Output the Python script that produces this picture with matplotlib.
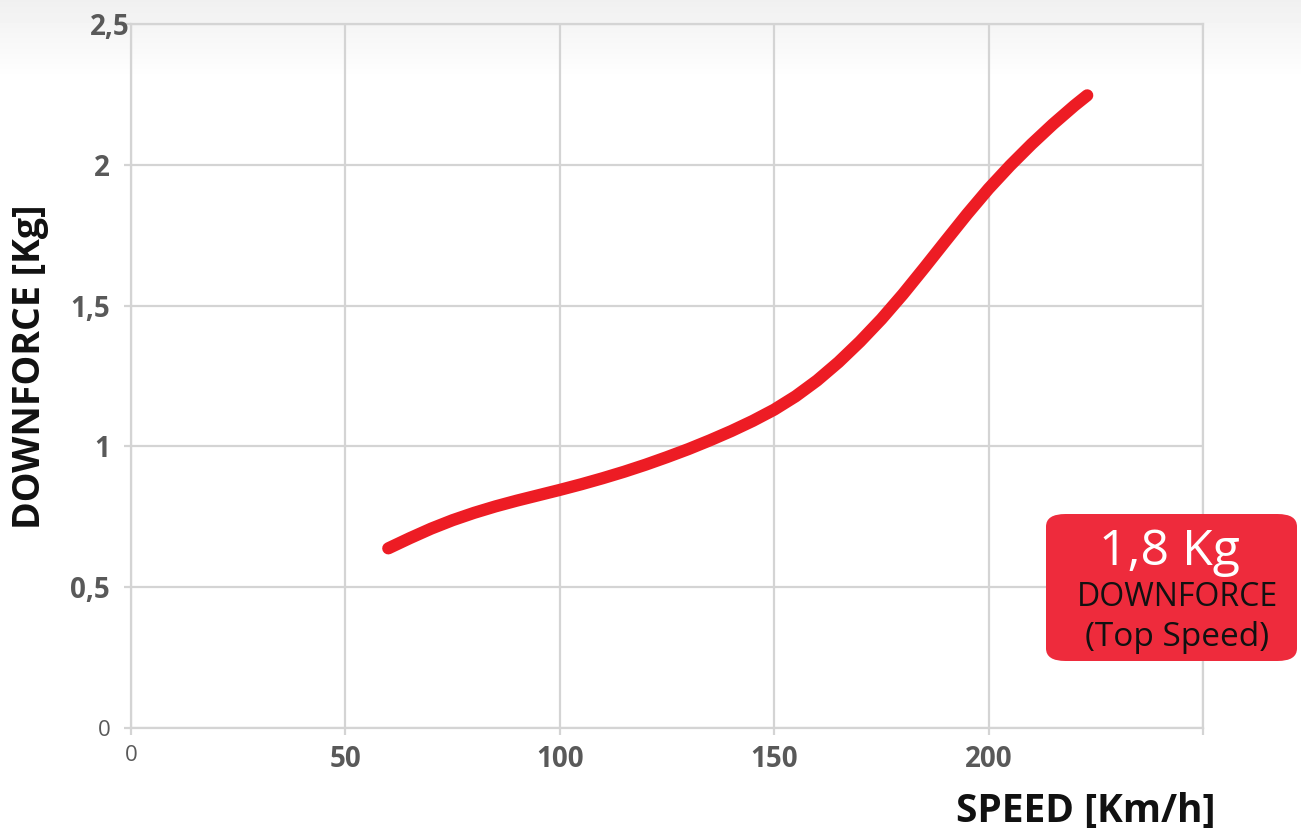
import numpy as np
import matplotlib
matplotlib.use('Agg')
import matplotlib.pyplot as plt
from matplotlib.patches import FancyBboxPatch

# data
speed = [60, 65, 70, 75, 80, 85, 90, 95, 100, 105, 110, 115, 120, 125, 130,
         135, 140, 145, 150, 155, 160, 165, 170, 175, 180, 185, 190, 195,
         200, 205, 210, 215, 220, 223]
downforce = [0.638, 0.674, 0.708, 0.738, 0.764, 0.787, 0.8075, 0.8265, 0.8455,
             0.8655, 0.887, 0.910, 0.935, 0.962, 0.9905, 1.0215, 1.0545, 1.0905,
             1.1305, 1.178, 1.234, 1.299, 1.372, 1.452, 1.540, 1.634, 1.730,
             1.825, 1.915, 1.997, 2.073, 2.144, 2.210, 2.2466]

x_ticks = [0, 50, 100, 150, 200, 250]
x_labels = ['0', '50', '100', '150', '200', '']
y_ticks = [0, 0.5, 1, 1.5, 2, 2.5]
y_labels = ['0', '0,5', '1', '1,5', '2', '2,5']

grey = '#595959'
grid_c = '#d4d4d4'

fig = plt.figure(figsize=(13.01, 8.36), dpi=100)

# light grey fade at the top of the picture
bg = fig.add_axes([0, 0, 1, 1], zorder=-10)
grad = np.ones((836, 2))
top = np.linspace(0.94, 1.0, 80)
grad[:80, :] = top[:, None]
bg.imshow(grad, cmap='gray', vmin=0, vmax=1, aspect='auto', extent=[0, 1, 0, 1])
bg.axis('off')

ax = fig.add_axes([131 / 1301, 1 - 728 / 836, 1072 / 1301, 704 / 836])
ax.patch.set_alpha(0)

ax.plot(speed, downforce, color='#ED1C24', lw=8.8, solid_capstyle='round',
        solid_joinstyle='round', zorder=5)

ax.set_xlim(0, 250)
ax.set_ylim(0, 2.5)
ax.set_xticks(x_ticks)
ax.set_xticklabels(x_labels)
ax.set_yticks(y_ticks)
ax.set_yticklabels(y_labels)
ax.grid(True, color=grid_c, lw=1.6)
ax.set_axisbelow(True)

for s in ax.spines.values():
    s.set_color(grid_c)
    s.set_linewidth(1.6)

ax.tick_params(axis='both', color=grid_c, width=1.6, length=5)
ax.tick_params(axis='x', pad=7)
ax.tick_params(axis='y', pad=10)

for lab in ax.get_xticklabels() + ax.get_yticklabels():
    lab.set_fontfamily('Open Sans')
    lab.set_color(grey)
    if lab.get_text() == '0':
        lab.set_fontsize(16)
        lab.set_fontweight('normal')
    else:
        lab.set_fontsize(20)
        lab.set_fontweight('bold')

# the top label sits a bit to the right in the original
ax.get_yticklabels()[-1].set_ha('center')

fig.text(1215 / 1301, 1 - 811 / 836, 'SPEED [Km/h]', ha='right', va='center',
         fontsize=28, fontweight='bold', family='Open Sans', color='#111111')
fig.text(30 / 1301, 1 - 367 / 836, 'DOWNFORCE [Kg]', ha='center', va='center',
         rotation=90, fontsize=27, fontweight='bold', family='Open Sans',
         color='#111111')

# red badge
box = FancyBboxPatch((1046 / 1301, 1 - 661 / 836), 251 / 1301, 147 / 836,
                     boxstyle='round,pad=0,rounding_size=0.015',
                     transform=fig.transFigure, facecolor='#EE2B3C',
                     edgecolor='none', zorder=10)
fig.patches.append(box)
fig.text(1169 / 1301, 1 - 552 / 836, '1,8 Kg', ha='center', va='center',
         fontsize=36, color='white', family='Open Sans', zorder=11)
fig.text(1178 / 1301, 1 - 598 / 836, 'DOWNFORCE', ha='center', va='center',
         fontsize=23, fontweight='medium', color='#111111', family='Open Sans',
         zorder=11)
fig.text(1177 / 1301, 1 - 637 / 836, '(Top Speed)', ha='center', va='center',
         fontsize=24, fontweight='medium', color='#111111', family='Open Sans',
         zorder=11)

fig.savefig('out.png', dpi=100)
